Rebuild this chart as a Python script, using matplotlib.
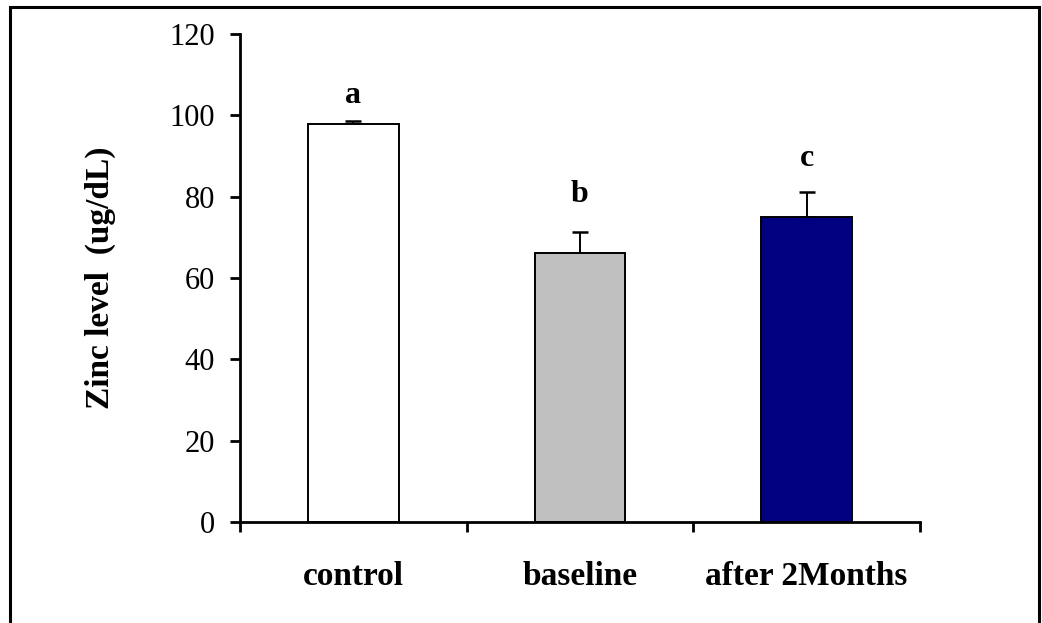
import matplotlib.pyplot as plt
import matplotlib.patches as patches
import numpy as np

plt.rcParams['font.family'] = ['Liberation Serif', 'DejaVu Serif']

groups = ["control", "baseline", "after 2Months"]
zinc = [97.9, 66.1, 75.0]
sd = [0.6, 5.2, 6.1]
letters = ["a", "b", "c"]
letter_y = [105.0, 80.5, 89.5]
colors = ["#FFFFFF", "#C0C0C0", "#000080"]

fig = plt.figure(figsize=(10.42, 6.23), dpi=100)
ax = fig.add_axes([0.2303, 0.1621, 0.6526, 0.7833])

x = np.arange(len(groups))
ax.bar(x, zinc, width=0.4, color=colors, edgecolor="black", linewidth=1.4, zorder=2)
ax.errorbar(x, zinc, yerr=[np.zeros(len(sd)), sd], fmt="none", ecolor="black",
            elinewidth=1.4, capsize=5.5, capthick=1.8, zorder=1)

for xi, t, yi in zip(x, letters, letter_y):
    ax.text(xi, yi, t, ha="center", va="center", fontsize=23, fontweight="bold")

ax.set_xlim(-0.5, 2.5)
ax.set_ylim(0, 120)
ax.set_yticks(np.arange(0, 121, 20))
ax.tick_params(axis="y", labelsize=22, length=7, width=2, pad=11, direction="out")

ax.set_xticks(x)
ax.set_xticklabels(groups, fontsize=24, fontweight="bold")
ax.set_xticks([-0.5, 0.5, 1.5, 2.5], minor=True)
ax.tick_params(axis="x", which="major", length=0, pad=28)
ax.tick_params(axis="x", which="minor", length=7, width=2, direction="out")

ax.set_ylabel("Zinc level  (ug/dL)", fontsize=24, fontweight="bold")
ax.yaxis.set_label_coords(-0.183, 0.5)

for s in ["top", "right"]:
    ax.spines[s].set_visible(False)
for s in ["left", "bottom"]:
    ax.spines[s].set_linewidth(2)

# outer frame around the whole chart
frame = patches.Rectangle((10 / 1042, -0.02), 1029 / 1042, 1.0 - 7 / 623 + 0.02,
                          transform=fig.transFigure, fill=False,
                          edgecolor="black", linewidth=2.2)
fig.patches.append(frame)

fig.savefig("out.png", dpi=100)
